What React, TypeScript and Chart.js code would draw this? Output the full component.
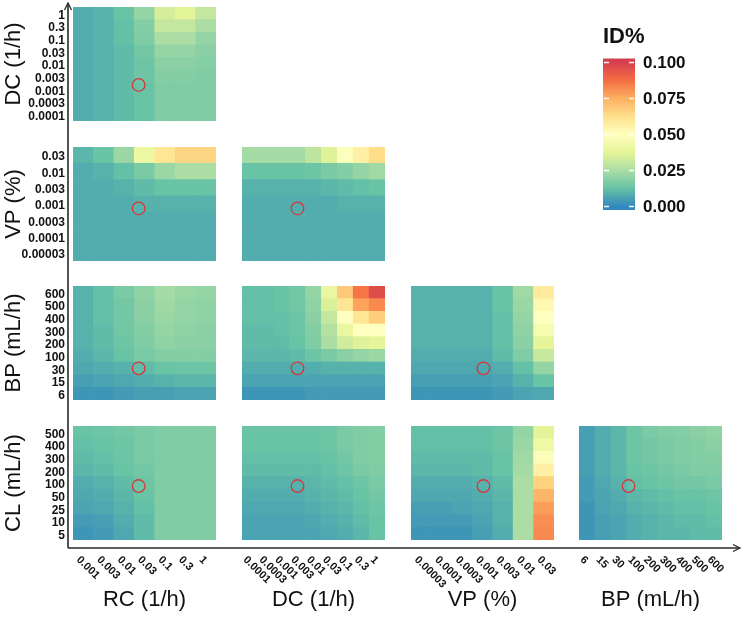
import React, { useEffect, useRef } from "react";
import { Chart, registerables } from "chart.js";

Chart.register(...registerables);

const FONT = "'Liberation Sans', Arial, Helvetica, sans-serif";

// ---- axis tick labels (parameter grids) ----
const RC_TICKS = ["0.001", "0.003", "0.01", "0.03", "0.1", "0.3", "1"];
const DC_TICKS = ["0.0001", "0.0003", "0.001", "0.003", "0.01", "0.03", "0.1", "0.3", "1"];
const VP_TICKS = ["0.00003", "0.0001", "0.0003", "0.001", "0.003", "0.01", "0.03"];
const BP_TICKS = ["6", "15", "30", "100", "200", "300", "400", "500", "600"];
const CL_TICKS = ["5", "10", "25", "50", "100", "200", "300", "400", "500"];

const Y_TITLES = ["DC (1/h)", "VP (%)", "BP (mL/h)", "CL (mL/h)"];
const X_TITLES = ["RC (1/h)", "DC (1/h)", "VP (%)", "BP (mL/h)"];

const CB_TICKS = [0, 0.025, 0.05, 0.075, 0.1];
const CB_TITLE = "ID%";
const SPECTRAL_R = ["#3288bd", "#66c2a5", "#abdda4", "#e6f598", "#ffffbf", "#fee08b", "#fdae61", "#f46d43", "#d53e4f"];

// ---- ID% values; each matrix lists rows from top (largest y) to bottom ----
const DC_VS_RC = [
  [0.008, 0.009, 0.013, 0.021, 0.034, 0.037, 0.030],
  [0.008, 0.009, 0.012, 0.018, 0.030, 0.030, 0.025],
  [0.008, 0.009, 0.012, 0.017, 0.025, 0.025, 0.021],
  [0.008, 0.009, 0.011, 0.015, 0.021, 0.021, 0.019],
  [0.008, 0.009, 0.011, 0.014, 0.019, 0.019, 0.018],
  [0.008, 0.009, 0.011, 0.014, 0.018, 0.018, 0.017],
  [0.008, 0.009, 0.011, 0.013, 0.017, 0.017, 0.017],
  [0.008, 0.009, 0.011, 0.013, 0.017, 0.017, 0.017],
  [0.008, 0.009, 0.011, 0.013, 0.017, 0.017, 0.017],
];
const VP_VS_RC = [
  [0.010, 0.013, 0.022, 0.041, 0.060, 0.065, 0.065],
  [0.008, 0.009, 0.012, 0.016, 0.022, 0.025, 0.025],
  [0.008, 0.008, 0.009, 0.011, 0.013, 0.013, 0.013],
  [0.008, 0.008, 0.008, 0.009, 0.009, 0.009, 0.009],
  [0.008, 0.008, 0.008, 0.008, 0.008, 0.008, 0.008],
  [0.008, 0.008, 0.008, 0.008, 0.008, 0.008, 0.008],
  [0.008, 0.008, 0.008, 0.008, 0.008, 0.008, 0.008],
];
const VP_VS_DC = [
  [0.024, 0.024, 0.024, 0.024, 0.029, 0.036, 0.049, 0.056, 0.063],
  [0.013, 0.013, 0.013, 0.013, 0.014, 0.016, 0.018, 0.021, 0.023],
  [0.009, 0.009, 0.009, 0.009, 0.009, 0.010, 0.011, 0.012, 0.013],
  [0.008, 0.008, 0.008, 0.008, 0.008, 0.008, 0.009, 0.009, 0.009],
  [0.008, 0.008, 0.008, 0.008, 0.008, 0.008, 0.008, 0.008, 0.008],
  [0.008, 0.008, 0.008, 0.008, 0.008, 0.008, 0.008, 0.008, 0.008],
  [0.008, 0.008, 0.008, 0.008, 0.008, 0.008, 0.008, 0.008, 0.008],
];
const BP_VS_RC = [
  [0.009, 0.012, 0.016, 0.020, 0.024, 0.022, 0.021],
  [0.009, 0.012, 0.015, 0.019, 0.023, 0.021, 0.020],
  [0.009, 0.012, 0.015, 0.019, 0.022, 0.021, 0.020],
  [0.009, 0.011, 0.015, 0.018, 0.021, 0.020, 0.019],
  [0.009, 0.011, 0.014, 0.017, 0.020, 0.019, 0.019],
  [0.008, 0.010, 0.013, 0.016, 0.018, 0.018, 0.018],
  [0.007, 0.008, 0.009, 0.011, 0.013, 0.014, 0.014],
  [0.005, 0.006, 0.007, 0.008, 0.009, 0.010, 0.010],
  [0.003, 0.003, 0.004, 0.005, 0.005, 0.006, 0.006],
];
const BP_VS_DC = [
  [0.012, 0.012, 0.013, 0.015, 0.021, 0.040, 0.068, 0.086, 0.096],
  [0.012, 0.012, 0.013, 0.015, 0.020, 0.035, 0.060, 0.077, 0.082],
  [0.012, 0.012, 0.012, 0.014, 0.019, 0.030, 0.050, 0.060, 0.067],
  [0.011, 0.011, 0.012, 0.014, 0.018, 0.027, 0.040, 0.050, 0.050],
  [0.011, 0.011, 0.011, 0.013, 0.017, 0.025, 0.033, 0.036, 0.038],
  [0.010, 0.010, 0.010, 0.011, 0.014, 0.016, 0.019, 0.021, 0.022],
  [0.008, 0.008, 0.008, 0.008, 0.008, 0.009, 0.009, 0.009, 0.009],
  [0.006, 0.006, 0.006, 0.006, 0.006, 0.006, 0.006, 0.006, 0.006],
  [0.003, 0.003, 0.003, 0.003, 0.004, 0.004, 0.004, 0.004, 0.004],
];
const BP_VS_VP = [
  [0.009, 0.009, 0.009, 0.009, 0.013, 0.023, 0.058],
  [0.009, 0.009, 0.009, 0.009, 0.013, 0.022, 0.053],
  [0.009, 0.009, 0.009, 0.009, 0.012, 0.021, 0.050],
  [0.009, 0.009, 0.009, 0.009, 0.012, 0.020, 0.045],
  [0.009, 0.009, 0.009, 0.009, 0.012, 0.019, 0.038],
  [0.008, 0.008, 0.008, 0.008, 0.011, 0.017, 0.031],
  [0.007, 0.007, 0.007, 0.007, 0.008, 0.012, 0.021],
  [0.005, 0.005, 0.005, 0.005, 0.006, 0.009, 0.013],
  [0.003, 0.003, 0.003, 0.003, 0.004, 0.006, 0.007],
];
const CL_VS_RC = [
  [0.013, 0.014, 0.015, 0.016, 0.017, 0.017, 0.017],
  [0.012, 0.013, 0.014, 0.016, 0.017, 0.017, 0.017],
  [0.011, 0.012, 0.014, 0.016, 0.017, 0.017, 0.017],
  [0.010, 0.011, 0.013, 0.015, 0.017, 0.017, 0.017],
  [0.008, 0.009, 0.011, 0.014, 0.017, 0.017, 0.017],
  [0.007, 0.008, 0.010, 0.013, 0.017, 0.017, 0.017],
  [0.006, 0.007, 0.009, 0.012, 0.017, 0.017, 0.017],
  [0.004, 0.005, 0.008, 0.011, 0.017, 0.017, 0.017],
  [0.003, 0.004, 0.007, 0.011, 0.017, 0.017, 0.017],
];
const CL_VS_DC = [
  [0.013, 0.013, 0.013, 0.013, 0.013, 0.014, 0.016, 0.017, 0.018],
  [0.013, 0.013, 0.013, 0.013, 0.013, 0.014, 0.016, 0.017, 0.018],
  [0.012, 0.012, 0.012, 0.012, 0.012, 0.013, 0.015, 0.017, 0.018],
  [0.011, 0.011, 0.011, 0.011, 0.011, 0.012, 0.014, 0.016, 0.017],
  [0.009, 0.009, 0.009, 0.009, 0.010, 0.011, 0.012, 0.014, 0.016],
  [0.008, 0.008, 0.008, 0.008, 0.009, 0.010, 0.011, 0.013, 0.015],
  [0.007, 0.007, 0.007, 0.007, 0.008, 0.009, 0.010, 0.012, 0.014],
  [0.006, 0.006, 0.006, 0.006, 0.007, 0.008, 0.009, 0.011, 0.013],
  [0.006, 0.006, 0.006, 0.006, 0.006, 0.007, 0.008, 0.010, 0.013],
];
const CL_VS_VP = [
  [0.012, 0.012, 0.012, 0.012, 0.014, 0.021, 0.037],
  [0.012, 0.012, 0.012, 0.012, 0.014, 0.022, 0.042],
  [0.011, 0.011, 0.011, 0.011, 0.013, 0.023, 0.048],
  [0.010, 0.010, 0.010, 0.011, 0.013, 0.024, 0.056],
  [0.008, 0.008, 0.008, 0.009, 0.011, 0.025, 0.066],
  [0.007, 0.007, 0.007, 0.008, 0.010, 0.025, 0.073],
  [0.005, 0.005, 0.006, 0.007, 0.009, 0.025, 0.078],
  [0.004, 0.004, 0.004, 0.006, 0.009, 0.025, 0.081],
  [0.003, 0.003, 0.003, 0.005, 0.008, 0.025, 0.082],
];
const CL_VS_BP = [
  [0.005, 0.008, 0.010, 0.014, 0.016, 0.017, 0.018, 0.019, 0.020],
  [0.005, 0.008, 0.010, 0.014, 0.015, 0.016, 0.017, 0.018, 0.019],
  [0.005, 0.008, 0.010, 0.014, 0.015, 0.016, 0.017, 0.018, 0.018],
  [0.005, 0.008, 0.010, 0.013, 0.014, 0.015, 0.016, 0.017, 0.017],
  [0.004, 0.007, 0.009, 0.012, 0.013, 0.014, 0.015, 0.015, 0.016],
  [0.004, 0.006, 0.008, 0.010, 0.011, 0.012, 0.013, 0.013, 0.014],
  [0.003, 0.006, 0.007, 0.009, 0.010, 0.011, 0.012, 0.012, 0.013],
  [0.003, 0.005, 0.006, 0.008, 0.009, 0.010, 0.011, 0.011, 0.012],
  [0.003, 0.005, 0.006, 0.008, 0.009, 0.010, 0.010, 0.011, 0.011],
];

// ---- reference point (red circle), in grid-index units [x, y] ----
const MARK_DC_RC = [2.57, 2.35];
const MARK_VP_RC = [2.57, 2.73];
const MARK_VP_DC = [2.49, 2.73];
const MARK_BP_RC = [2.57, 2.0];
const MARK_BP_DC = [2.49, 2.0];
const MARK_BP_VP = [3.07, 2.0];
const MARK_CL_RC = [2.57, 3.76];
const MARK_CL_DC = [2.49, 3.76];
const MARK_CL_VP = [3.07, 3.76];
const MARK_CL_BP = [1.93, 3.76];

const PANELS = [
  { r: 0, c: 0, xt: RC_TICKS, yt: DC_TICKS, z: DC_VS_RC, m: MARK_DC_RC },
  { r: 1, c: 0, xt: RC_TICKS, yt: VP_TICKS, z: VP_VS_RC, m: MARK_VP_RC },
  { r: 1, c: 1, xt: DC_TICKS, yt: VP_TICKS, z: VP_VS_DC, m: MARK_VP_DC },
  { r: 2, c: 0, xt: RC_TICKS, yt: BP_TICKS, z: BP_VS_RC, m: MARK_BP_RC },
  { r: 2, c: 1, xt: DC_TICKS, yt: BP_TICKS, z: BP_VS_DC, m: MARK_BP_DC },
  { r: 2, c: 2, xt: VP_TICKS, yt: BP_TICKS, z: BP_VS_VP, m: MARK_BP_VP },
  { r: 3, c: 0, xt: RC_TICKS, yt: CL_TICKS, z: CL_VS_RC, m: MARK_CL_RC },
  { r: 3, c: 1, xt: DC_TICKS, yt: CL_TICKS, z: CL_VS_DC, m: MARK_CL_DC },
  { r: 3, c: 2, xt: VP_TICKS, yt: CL_TICKS, z: CL_VS_VP, m: MARK_CL_VP },
  { r: 3, c: 3, xt: BP_TICKS, yt: CL_TICKS, z: CL_VS_BP, m: MARK_CL_BP },
];

// ---- layout (pixels) ----
const W = 750;
const H = 624;
const COL_X = [73, 242, 411, 579];
const ROW_Y = [7, 147, 286, 426];
const PW = 143;
const PH = 114;
const YAXIS_W = 73;
const XAXIS_H = H - (ROW_Y[3] + PH);
const XLABEL_ROOM = 26;
const CB = { left: 600, top: 0, width: 105, height: 240 };

const CB_MIN = 0;
const CB_MAX = 0.1;

function hexToRgb(h: string) {
  const n = parseInt(h.slice(1), 16);
  return [(n >> 16) & 255, (n >> 8) & 255, n & 255];
}

function colorFor(v: number): string {
  const n = SPECTRAL_R.length;
  const t = Math.max(0, Math.min(1, (v - CB_MIN) / (CB_MAX - CB_MIN))) * (n - 1);
  const i = Math.min(Math.floor(t), n - 2);
  const f = t - i;
  const a = hexToRgb(SPECTRAL_R[i]);
  const b = hexToRgb(SPECTRAL_R[i + 1]);
  const c = a.map((av, k) => Math.round(av + (b[k] - av) * f));
  return `rgb(${c[0]},${c[1]},${c[2]})`;
}

function panelGeom(p: { r: number; c: number }) {
  const left = p.c === 0 ? 0 : COL_X[p.c];
  const top = ROW_Y[p.r];
  const extra = p.r === 3 ? XLABEL_ROOM : 0;
  const width = (p.c === 0 ? COL_X[0] + PW : PW) + extra;
  const height = p.r === 3 ? PH + XAXIS_H : PH;
  return { left, top, width, height, extra };
}

function makeDiagTicks(labels: string[]) {
  return {
    id: "diagTicks",
    afterDraw(chart: any) {
      const { ctx, chartArea } = chart;
      const xs = chart.scales.x;
      ctx.save();
      ctx.font = `bold 11px ${FONT}`;
      ctx.fillStyle = "#111";
      ctx.textAlign = "left";
      ctx.textBaseline = "middle";
      labels.forEach((lab, i) => {
        const px = xs.getPixelForValue(i);
        ctx.save();
        ctx.translate(px - 5, chartArea.bottom + 18);
        ctx.rotate(Math.PI / 4);
        ctx.fillText(lab, 0, 0);
        ctx.restore();
      });
      ctx.restore();
    },
  };
}

function panelConfig(p: any): any {
  const nx = p.xt.length;
  const ny = p.yt.length;
  const g = panelGeom(p);
  const rowsBottomUp = p.z.slice().reverse();
  const datasets: any[] = rowsBottomUp.map((row: number[], k: number) => ({
    type: "bar",
    label: p.yt[k],
    data: row.map(() => 1),
    backgroundColor: row.map(colorFor),
    borderWidth: 0,
    barPercentage: 1,
    categoryPercentage: 1,
    grouped: false,
    stack: "grid",
    order: 1,
    xAxisID: "x",
    yAxisID: "y",
  }));
  datasets.push({
    type: "scatter",
    label: "reference",
    data: [{ x: p.m[0], y: p.m[1] }],
    xAxisID: "xm",
    yAxisID: "ym",
    order: 0,
    clip: false,
    pointRadius: 6.3,
    pointBorderWidth: 1.3,
    pointBorderColor: "#d8363a",
    pointBackgroundColor: "rgba(0,0,0,0)",
    showLine: false,
  });
  const bottom = p.r === 3;
  const left = p.c === 0;
  return {
    type: "bar",
    data: { labels: p.xt, datasets },
    options: {
      responsive: false,
      animation: false,
      events: [],
      layout: { padding: { left: 0, top: 0, bottom: 0, right: g.extra }, autoPadding: false },
      plugins: { legend: { display: false }, tooltip: { enabled: false }, title: { display: false } },
      scales: {
        x: {
          type: "category",
          stacked: true,
          offset: true,
          display: bottom,
          ticks: { display: false },
          grid: { display: false, drawTicks: false },
          border: { display: false },
          title: {
            display: true,
            text: X_TITLES[p.c],
            color: "#111",
            font: { family: FONT, size: 22 },
            padding: { top: 0, bottom: 11 },
          },
          afterFit: (s: any) => {
            if (bottom) {
              s.height = XAXIS_H;
              s.paddingLeft = 0;
              s.paddingRight = 0;
            }
          },
        },
        y: {
          type: "linear",
          stacked: true,
          min: 0,
          max: ny,
          display: left,
          afterBuildTicks: (s: any) => {
            s.ticks = p.yt.map((_: string, k: number) => ({ value: k + 0.5 }));
          },
          ticks: {
            autoSkip: false,
            padding: 8,
            labelOffset: 2,
            color: "#111",
            font: { family: FONT, size: 12, weight: "bold" },
            callback: (_v: any, i: number) => p.yt[i],
          },
          grid: { display: false, drawTicks: false },
          border: { display: false },
          title: {
            display: true,
            text: Y_TITLES[p.r],
            color: "#111",
            font: { family: FONT, size: 22 },
            padding: { top: 1, bottom: 0 },
          },
          afterFit: (s: any) => {
            if (left) {
              s.width = YAXIS_W;
              s.paddingTop = 0;
              s.paddingBottom = 0;
            }
          },
        },
        xm: { type: "linear", axis: "x", display: false, min: -0.5, max: nx - 0.5 },
        ym: { type: "linear", axis: "y", display: false, min: -0.5, max: ny - 0.5 },
      },
    },
    plugins: bottom ? [makeDiagTicks(p.xt)] : [],
  };
}

const axisArrows = {
  id: "axisArrows",
  afterDraw(chart: any) {
    const ctx = chart.ctx;
    const ox = 68;
    const oy = 548;
    const topY = 3;
    const rightX = 740;
    ctx.save();
    ctx.strokeStyle = "#2a2a2a";
    ctx.lineWidth = 1.6;
    ctx.beginPath();
    ctx.moveTo(ox, oy);
    ctx.lineTo(ox, topY + 1);
    ctx.moveTo(ox, oy);
    ctx.lineTo(rightX - 1, oy);
    ctx.stroke();
    ctx.lineWidth = 1.3;
    ctx.beginPath();
    ctx.moveTo(ox - 3.5, topY + 7);
    ctx.lineTo(ox, topY);
    ctx.lineTo(ox + 3.5, topY + 7);
    ctx.moveTo(rightX - 7, oy - 3.5);
    ctx.lineTo(rightX, oy);
    ctx.lineTo(rightX - 7, oy + 3.5);
    ctx.stroke();
    ctx.restore();
  },
};

const colorbarMarks = {
  id: "colorbarMarks",
  afterDatasetsDraw(chart: any) {
    const { ctx, chartArea } = chart;
    const ys = chart.scales.y;
    ctx.save();
    ctx.strokeStyle = "rgba(255,255,255,0.95)";
    ctx.lineWidth = 1.5;
    CB_TICKS.forEach((t) => {
      const y = Math.round(ys.getPixelForValue(t)) + 0.5;
      ctx.beginPath();
      ctx.moveTo(chartArea.left + 1, y);
      ctx.lineTo(chartArea.left + 6, y);
      ctx.moveTo(chartArea.right - 6, y);
      ctx.lineTo(chartArea.right - 1, y);
      ctx.stroke();
    });
    ctx.restore();
  },
};

function colorbarConfig(): any {
  const pad = 0.0025;
  return {
    type: "bar",
    data: {
      labels: [CB_TITLE],
      datasets: [
        {
          data: [[CB_MIN - pad, CB_MAX + pad]],
          barPercentage: 1,
          categoryPercentage: 1,
          borderWidth: 0,
          backgroundColor: (c: any) => {
            const ch = c.chart;
            const ys = ch.scales && ch.scales.y;
            if (!ys || !ch.chartArea) return SPECTRAL_R[0];
            const g = ch.ctx.createLinearGradient(0, ys.getPixelForValue(CB_MIN), 0, ys.getPixelForValue(CB_MAX));
            SPECTRAL_R.forEach((col, i) => g.addColorStop(i / (SPECTRAL_R.length - 1), col));
            return g;
          },
        },
      ],
    },
    options: {
      responsive: false,
      animation: false,
      events: [],
      layout: { padding: { left: 3, right: 0, top: 0, bottom: 30 }, autoPadding: false },
      plugins: {
        legend: { display: false },
        tooltip: { enabled: false },
        title: {
          display: true,
          text: CB_TITLE,
          align: "start",
          color: "#111",
          font: { family: FONT, size: 22, weight: "bold" },
          padding: { top: 24, bottom: 8 },
        },
      },
      scales: {
        x: { display: false },
        y: {
          position: "right",
          min: CB_MIN - pad,
          max: CB_MAX + pad,
          afterBuildTicks: (s: any) => {
            s.ticks = CB_TICKS.map((v) => ({ value: v }));
          },
          ticks: {
            padding: 8,
            labelOffset: 1,
            color: "#111",
            font: { family: FONT, size: 17, weight: "bold" },
            callback: (v: number) => Number(v).toFixed(3),
          },
          grid: { display: false, drawTicks: false },
          border: { display: false },
          afterFit: (s: any) => {
            s.width = 70;
          },
        },
      },
    },
    plugins: [colorbarMarks],
  };
}

export default function App() {
  const bgRef = useRef<HTMLCanvasElement | null>(null);
  const cbRef = useRef<HTMLCanvasElement | null>(null);
  const panelRefs = useRef<(HTMLCanvasElement | null)[]>([]);

  useEffect(() => {
    const charts: Chart[] = [];
    if (bgRef.current) {
      charts.push(
        new Chart(bgRef.current, {
          type: "scatter",
          data: { datasets: [] },
          options: {
            responsive: false,
            animation: false,
            events: [],
            plugins: { legend: { display: false }, tooltip: { enabled: false } },
            scales: { x: { display: false }, y: { display: false } },
          },
          plugins: [axisArrows],
        } as any)
      );
    }
    PANELS.forEach((p, i) => {
      const cv = panelRefs.current[i];
      if (cv) charts.push(new Chart(cv, panelConfig(p)));
    });
    if (cbRef.current) charts.push(new Chart(cbRef.current, colorbarConfig()));
    return () => charts.forEach((c) => c.destroy());
  }, []);

  return (
    <div style={{ position: "fixed", left: 0, top: 0, width: W, height: H, background: "#fff", overflow: "hidden" }}>
      <canvas ref={bgRef} width={W} height={H} style={{ position: "absolute", left: 0, top: 0, width: W, height: H }} />
      {PANELS.map((p, i) => {
        const g = panelGeom(p);
        return (
          <canvas
            key={i}
            ref={(el) => {
              panelRefs.current[i] = el;
            }}
            width={g.width}
            height={g.height}
            style={{ position: "absolute", left: g.left, top: g.top, width: g.width, height: g.height }}
          />
        );
      })}
      <canvas
        ref={cbRef}
        width={CB.width}
        height={CB.height}
        style={{ position: "absolute", left: CB.left, top: CB.top, width: CB.width, height: CB.height }}
      />
    </div>
  );
}
